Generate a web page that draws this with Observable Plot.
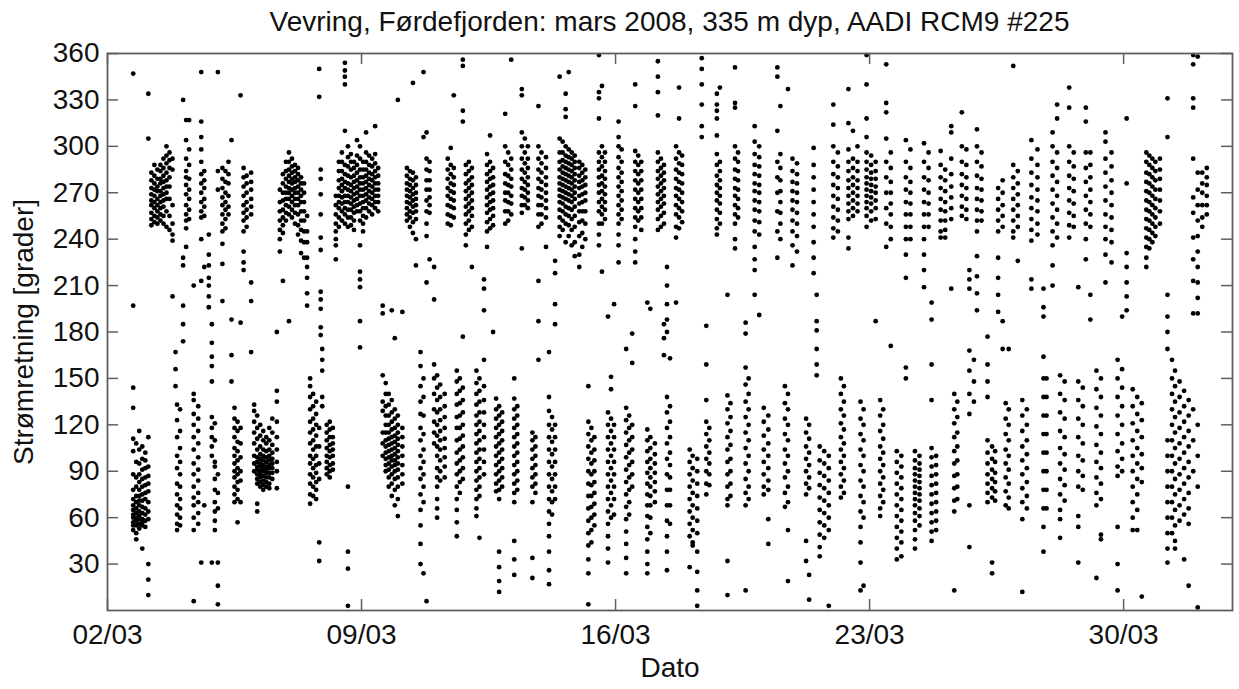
<!DOCTYPE html>
<html>
<head>
<meta charset="utf-8">
<script src="https://cdn.jsdelivr.net/npm/d3@7"></script>
<script src="https://cdn.jsdelivr.net/npm/@observablehq/plot@0.6"></script>
<style>
  html, body { margin: 0; padding: 0; background: #fff; }
  #wrap { width: 1239px; position: relative; }
  #title { box-sizing: border-box; height: 24px; padding-top: 8px; margin-left: 107px; width: 1125px; overflow: visible;
           text-align: center; font: 28px/28px "Liberation Sans", Arial, sans-serif; color: #111; white-space: nowrap; position: relative; z-index: 2; }
  #chart svg { background: transparent; }
</style>
</head>
<body>
<div id="wrap">
  <div id="title">Vevring, Førdefjorden: mars 2008, 335 m dyp, AADI RCM9 #225</div>
  <div id="chart"></div>
</div>
<script>
// Time of each sampled column: hours after 02/03/2008 00:00
const colHours = [17,19,21,23,25,27,29,31,33,35,37,39,41,43,45,46,48,50,52,54,57,60,62,64,67,69,71,73,76,78,80,82,84,86,88,90,92,95,97,99,101,103,105,107,109,112,114,116,118,120,122,124,126,128,130,132,134,136,138,140,141,142,145,147,149,151,153,155,157,159,161,163,165,167,169,171,173,175,177,179,182,184,186,188,190,192,195,198,200,202,204,207,209,211,213,216,218,220,223,225,227,229,231,233,235,237,239,241,244,246,249,251,253,255,257,259,261,263,265,267,269,271,274,276,278,281,283,285,287,290,292,294,296,299,301,303,305,307,309,312,314,316,318,320,322,325,327,329,331,333,335,338,340,343,345,347,349,351,353,357,359,362,364,366,368,370,372,376,378,380,385,387,390,393,396,398,403,405,410,412,415,417,422,424,428,431,434,437,443,445,448,450,453,456,462,464,467,469,471,474,477,480,483,485,487,490,493,496,498,500,502,505,508,511,513,515,518,522,525,528,531,534,537,540,543,545,548,551,554,558,560,562,565,568,570,573,575,578,582,585,587,589,592,594,596,599,602,605,608,611,615,619,621,625,628,630,633,636,639,642,645,647,650,654,657,660,664,668,671,674,678,681,684,687,689,691,693,696,701,704,706,709,712,715,718,721,724,727];

// Current direction [degrees] of the points in each column
const colDirs = [
"347 197 144 131 111 103 88 78 72 68 65 62 60 57 55 52",
"108 96 86 80 74 70 66 63 60 58 55 50 46",
"116 104 95 88 83 78 74 71 68 64 61 59 56 53",
"106 98 91 85 80 75 71 67 63 59 57 55 40",
"102 97 92 86 81 76 72 66 62 58 54",
"112 93 87 82 77 70 64 59 30 20 10 334 305",
"283 278 273 269 265 262 257 253 249",
"281 276 272 268 264 260 255 251 288",
"285 279 274 271 266 262 258 254 250",
"288 284 279 276 271 268 264 260 256 252",
"292 286 281 277 273 269 265 261 255 250",
"300 294 289 283 278 274 270 266 258 248",
"296 291 286 280 274 266 255 246",
"292 285 262 250 243 239 203",
"167 156 145",
"133 123 112 100 92 82 75 68 62 56 52",
"130 116 105 96 88 80 72 66 60 55",
"330 228 223 197 185 174",
"317 304 292 284 280 275 269 262 256 252 247 235",
"317 298 288 279 272 266 259 253",
"210 140 136 127 120 112 104 95 88 80 73 68 60 52 6",
"132 124 116 108 99 91 84 76 70 63 56",
"348 316 306 298 290 282 276 270 264 258 254 240 213 31",
"284 278 273 266 261 255 222 68",
"243 230 223 215 210 203 196",
"185 173 164 158 148 31 125 118 112 106 100",
"93 85 78 70 64 58 52 121 110 96",
"348 284 272 31 16 4 88 76 66",
"286 279 273 267 262 256 250 245 237 224 200",
"284 277 270 264 259 253 247",
"290 282 276 268 261 256",
"188 165 148 304",
"131 124 118 112 105 100 95 90 86 80 75 70",
"122 116 109 103 97 92 88 83 78 72 57",
"333 186 70 118 108 99 90 84",
"286 280 274 268 262 257 252 245 232 225 220",
"281 276 270 264 259 254 248",
"283 277 272 266 261 256 212 200 167",
"133 129 122 115 108 100 95 90",
"126 118 111 104 99 96 93 91 88 85 82 69 64",
"120 113 106 101 98 95 93 90 88 86 83 80",
"116 110 104 100 97 94 92 90 87 84 81 78",
"112 108 103 99 96 93 91 89 86 83 80",
"118 110 104 100 97 94 92 89 86 82 79",
"124 115 107 102 98 95 92 89 85",
"142 135 122 112 104 96 90 79 180",
"272 264 258 252 246 240 232",
"282 276 270 265 259 254 249 244 213",
"290 284 279 274 270 266 262 257 252",
"296 290 285 281 277 273 270 266 261 256 187",
"292 287 283 279 276 272 268 264 259 254",
"288 284 280 277 273 270 266 262 257 250",
"286 282 278 274 270 266 262 256 249 243",
"280 276 272 268 264 258 252 246 239 231",
"276 270 264 258 252 245 238 228",
"255 245 238 228 222 215 205 197",
"150 145 138 130 122 115 108 100 95 88 82 75 69",
"140 132 124 117 110 104 98 92 86 80 74",
"135 127 120 113 106 100 94 89 83 78 72",
"350 332 44 32 118 106 95 85",
"285 279 269 256 241 233 206 201 195 183 178",
"169 162 155 138 132",
"120 115 110 105 100 96 92 88",
"122 117 112 107 103 99 94 90 86",
"118 112 108 104 100 95 91",
"268 262 256 250 245 240 236 227",
"290 284 278 273 268 264 260 254 248",
"296 290 284 279 275 271 267 263 258 252",
"354 349 345 340 310 288 282 277 273 268 264 260 256 250",
"300 293 287 281 276 272 268 264 259 254 248 80 38 27 3",
"295 290 285 280 275 271 267 263 259 254 249",
"290 286 281 277 273 269 265 261 257 252 246",
"304 294 288 283 278 274 270 266 262 258",
"300 292 285 280 276 272 268 263 258 252 236 219 214 209 187 170",
"290 285 280 276 272 268 264 260 255 250 245",
"309 296 290 285 281 277 273 269 265 260 254",
"294 288 283 279 275 271 267 263 258",
"292 287 282 278 274 270 266 262 256",
"313 295 289 284 280 276 272 268 264 260",
"286 281 276 272 268 264 258",
"197 192 152 135 129 115 108 100",
"147 140 132 126 120 115 110 106 102 98 94 90",
"140 133 126 120 115 111 107 103 99 95 91 86 80",
"194 136 128 122 117 112 108 104 100 97 93 88 82 74",
"176 130 124 118 113 109 105 101 97 94 90 85 78 68",
"330 126 120 115 111 107 103 99 95 91 86 80 72 61",
"193 118 112 106 100 94 88 82",
"286 281 276 272 268 264 260 256 252",
"284 279 275 271 267 263 258 254 248",
"341 283 278 273 269 265 261 257 251 244",
"280 275 270 266 262 258 253 240 223",
"167 158 145 135 127 118 110 100 92 85 75 65 55 43 30",
"348 306 150 138 126 114 104 96 88 80 70 24",
"309 292 285 278 272 265 258 250 242 212 6",
"290 284 278 272 267 262 257 227",
"222 201 159 150 140 130 122 115 108",
"152 144 136 128 120 113 106 100 92 86 80 72 66 60",
"146 138 130 123 116 110 104 97 90 84",
"140 132 125 118 111 105 99 93 86",
"292 285 279 273 268 262 256 250",
"299 288 282 276 271 266 261 255 249",
"333 286 280 275 270 265 260 254",
"155 148 140 133 125 118 110 102 95 88 80 72 65 57 48",
"150 142 134 126 118 111 104 97 90 83 76",
"352 356 323 316 177 144 136 128 120 113 106 99 92 85",
"288 282 276 271 266 261 256 250 243 236",
"290 284 278 273 268 263 258 252 246",
"286 280 275 270 265 260 255 248 222",
"155 147 140 133 126 120 114 108 102 96 90 84 78 72 66 61",
"150 142 135 128 122 116 110 104 98 92 86 80 74 47",
"162 214 208 194 145 136 128 120 112 104 96 88",
"295 288 282 277 272 267 262 257 251 245 235",
"307 290 284 279 274 269 264 259 253 247",
"180 286 280 275 270 265 260 255 249",
"137 130 124 118 112 106 100 94 88 82 77",
"132 126 120 114 108 102 96 90 84 78 72 38 28 19 12",
"128 122 116 110 104 98 92 86 80",
"321 300 290 282 276 270 265 258 250",
"296 288 281 275 270 264 258 252",
"356 292 285 279 274 268 263 256",
"150 137 130 124 118 112 106 100 94 88 82 76 70 45 33 23",
"132 126 120 114 108 102 96 90 84 78",
"337 333 309 300 292 285 279 273 268 262 257 234",
"305 296 289 283 277 272 267 262",
"300 292 286 280 275 270 265 260",
"115 110 104 98 92 86 80 70 34 21",
"112 106 100 94 88 82 76",
"162 187 213 326 300 292 285 279 273 268 262 256 248",
"296 289 283 277 272 267 262 256 250",
"293 286 280 275 270 265 260 254 235",
"167 138 129 120 112 104 96 88 80 72 64 56 48 38 26 17",
"125 117 109 101 93 85 77 70 62",
"185 198 218 226 120 112 104 96 88 80 72",
"345 305 296 290 285 280 276 272 268 264 259 254 248 242",
"303 296 291 287 283 279 275 271 267 263 258 252 246",
"334 324 319 300 294 290 286 282 278 274 270 266 261 256 250 238",
"348 298 293 289 285 281 277 273 269 265 260 255 249 242",
"296 292 288 284 280 276 272 268 264 259 253 246 236",
"294 290 286 282 278 274 270 266 261 255 248 238 229",
"290 286 281 277 273 268 263 258 251 242 230 222",
"288 283 278 274 269 264 258 252 244 235",
"285 280 275 270 265 258 250 240",
"145 122 114 106 98 90 82 74 66 58 50 42 33 24 4",
"118 110 102 95 88 81 74 67 60 52 44",
"112 104 97 90 83 76 69 62 55",
"359 335 331 318 296 290 285 280 275 270 264 258 250 243 236",
"339 300 293 287 281 276 271 266 261 256 250 219",
"296 290 284 279 274 269 264 259 253",
"190 128 120 112 104 96 88 80 72 64 56 48 40 31",
"151 143 124 116 108 100 92 84 76 68 60",
"198 120 112 104 96 88 80 72 62",
"316 306 300 293 286 280 274 268 262 256 250 243 236 225",
"298 290 283 277 271 265 259 253",
"169 131 123 115 107 99 91 83 75 67 59 51 43 34 24",
"126 118 110 102 94 86 78 70 62",
"160 179 120 112 104 96 88 80",
"340 326 297 290 284 278 272 266 260 254 248 240 232 225",
"294 288 282 276 270 264 258 252",
"290 284 278 272 266 260 254 246",
"199 117 110 103 96 89 82 75 68 61 54 46 38 30 24",
"195 112 105 98 92 86 80 74 68 60 50",
"108 101 95 89 83 77 70",
"355 345 335 320 296 290 284 279 274 269 264 259 253 246",
"292 286 281 276 271 266 261 255 248",
"288 283 278 273 268 263 257 250 185 176 165",
"222 210 198 188 180 138 128 118 108 98 88 78 68 58 48 38 26",
"163 132 122 112 102 94 86 78 68 56",
"300 292 285 279 273 268 262 256 248 241 199",
"318 338 296 289 283 277 272 266 260 254 247",
"294 288 282 276 270 264 258 251",
"104 96 88 80 72 64 56 48 28",
"100 92 84 76 68 60 52 44 42",
"98 90 82 74 66 58 50 38 25 13 3",
"357 350 340 327 313 306",
"159 136 122 114 106 98 90 82 75 184",
"118 110 102 95 88 81",
"334 327 323 318 307 295 288 281 275 270 265 259 253 247 243",
"338 290 284 278 273 268 263 257 250",
"204 139 130 121 112 104 96 88 80 72 68 32 10",
"134 125 116 107 98 90 82 74",
"351 328 325 300 292 285 279 273 268 262 256 250 240 234",
"296 290 284 278 272 266 260 254",
"186 179 157 146 135 125 115 105 95 85 76 68 13",
"150 140 130 120 110 100 90 80 72",
"313 303 295 288 282 276 271 265 259 252 245 235 227 220 204",
"300 293 287 281 275 270 264 258 251 243 191",
"131 122 113 104 96 88 80 75",
"126 117 108 100 92 84 78 59 43",
"351 345 310 290 280 270 258 245 228",
"326 295 286 278 271 264 257 250 240",
"145 134 124 114 104 95 86 76 67",
"140 130 120 110 100 90 80 70 52 19 337",
"292 284 277 271 265 259 252 245 236 223",
"289 282 276 270 264 257 250 242 232",
"124 115 106 98 90 82 75 45 32",
"120 111 102 94 86 79 23 7",
"299 288 280 272 264 256 248 238 228 218",
"204 187 181 169 159 152",
"106 97 89 81 73 65 57 49 41 35",
"103 95 87 79 71 63 55 47",
"100 92 84 76 68 60 52 3",
"327 314 300 290 282 275 268 261 254 247 241",
"296 287 280 273 266 259 252 245",
"150 140 130 121 112 104 96 88 80 73",
"145 135 126 117 108 100 92 84 76",
"337 315 298 290 284 278 273 268 263 258 253 241 234",
"310 292 286 280 275 270 265 260 255",
"300 290 284 278 273 268 263 258",
"135 124 114 104 94 84 74 64 54 44 31 13",
"130 120 110 100 90 80 70 60 16",
"359 340 318 306 296 290 285 280 276 272 268 264 260 255 248",
"294 288 283 279 275 271 267 263 258 252",
"290 284 279 274 270 265 260 253 187",
"136 126 116 106 98 90 82 74 66 61",
"130 120 111 102 94 86 78 70",
"353 328 322 305 290 280 270 260 250 235",
"296 286 277 270 263 256 248 240 171",
"103 96 89 82 75 68 61 54 47 40 33",
"100 93 86 79 72 65 58 51 44 35",
"304 290 280 272 264 256 248 240 230 215 157 150",
"298 286 277 270 263 256 248 240",
"103 97 92 88 84 80 76 72 68 63 58 52 46 40",
"100 95 91 87 83 79 75 71 66 61 55",
"302 290 280 272 264 256 248 240 230 220 209",
"296 286 278 270 263 256 248",
"136 105 99 93 87 81 75 69 63 57 51 45 159 188 199",
"100 94 88 82 76 70 64 58 52",
"297 288 280 273 266 259 252 245 241",
"285 278 271 264 258 252 246 241",
"313 309 292 282 274 267 260 253 208",
"140 130 121 112 103 95 87 79 71 64 13",
"135 125 115 106 97 88 80 72",
"322 300 290 282 275 268 261 255",
"298 288 280 273 266 259 253",
"220 214 208 168 155 140 127 68 41",
"162 148 135",
"311 300 290 281 273 266 259 252 245 229 216 205 194",
"296 287 279 272 265 258 252",
"177 159 148 138 110 102 95 88 82 76 70",
"106 98 91 85 79 73 31 24",
"103 96 89 83 77 71",
"273 266 259 252 245 228 215 204 193",
"278 270 262 255 248 187 169",
"134 124 114 104 95 86 77 68",
"130 120 110 100 91 82 73 66 169",
"288 280 273 266 259 252 245 241 352",
"284 276 269 262 255 248 226",
"136 126 116 106 97 88 79 70 59 12",
"130 120 110 101 92 83 74 66",
"304 292 283 275 267 260 253 246 239 214 208",
"298 288 280 272 265 258 250 243",
"208 196 190 164 150 138 126 114 102 90 78 66 54 38",
"150 138 126 114 102 90 78 66",
"309 300 290 281 272 263 254 245 236 223 210",
"327 318 296 286 277 268 259 250 241",
"152 140 128 116 105 95 85 75 65 59 47",
"148 136 124 112 101 91 81 71",
"338 325 300 290 281 273 265 257 249 241",
"296 287 279 271 263 255 248",
"209 148 136 124 112 100 90 80 61 54 31",
"144 132 120 108 97 87 78",
"325 316 296 286 277 268 259 250 240 227",
"296 288 280 272 264 256 248 204 188",
"155 143 131 119 107 96 86 76 68 21",
"150 138 126 114 102 92 82 72 49 46",
"309 303 292 283 274 265 256 248 240 230 212",
"296 287 278 270 262 254 246 238 225",
"162 150 138 126 114 103 93 87 54 30 13",
"156 144 132 120 108 98 90 190",
"318 276 231 222 212 203 194",
"143 132 121 110 100 90 80 70 60 52",
"138 127 116 105 95 85 75 65 52",
"134 123 112 101 92 83 9",
"296 290 283 277 271 265 259 253 247 241 235 228 222",
"294 288 282 276 270 264 258 252 246 240 234",
"292 286 280 274 268 262 256 250 244 238",
"290 284 278 272 266 260 254 248 242",
"292 285 279 272 265 258 250",
"331 306 204 190 180 169 110 100 90 80 70 60 50 40 31",
"162 150 140 130 120 110 100 90 80 70 60 50",
"155 145 135 125 115 105 95 85 75 65 55 45 40",
"148 138 128 118 108 98 88 78 68 58",
"142 132 122 112 102 92 82 72 62 33",
"136 126 116 106 96 86 76 66 56 16",
"359 353 331 325 292 267 257 241 227 213 192 130 110 90",
"358 283 272 262 252 242 232 222 212 202 192 120 100 80 2",
"283 276 270 262 254 248",
"286 280 275 268 262 256"
];

const startDate = Date.UTC(2008, 2, 2);
const endDate = Date.UTC(2008, 3, 2);
const xTickDates = [2, 9, 16, 23, 30].map(d => new Date(Date.UTC(2008, 2, d)));
const yTicks = [30, 60, 90, 120, 150, 180, 210, 240, 270, 300, 330, 360];

const points = [];
colHours.forEach((h, i) => {
  const t = new Date(startDate + h * 3600e3);
  colDirs[i].trim().split(/\s+/).forEach(v => points.push({t, dir: +v}));
});

const W = 1239, H = 665, mT = 29, mB = 79, mL = 107, mR = 7;
const plotH = H - mT - mB, plotW = W - mL - mR, tick = 11;
const axisColor = "#5f5f5f", textColor = "#111";

const chart = Plot.plot({
  width: W, height: H,
  marginTop: mT, marginBottom: mB, marginLeft: mL, marginRight: mR,
  style: {fontFamily: '"Liberation Sans", Arial, sans-serif', fontSize: "28px", color: textColor, background: "transparent"},
  x: {type: "utc", domain: [new Date(startDate), new Date(endDate)]},
  y: {domain: [0, 360]},
  marks: [
    Plot.dot(points, {x: "t", y: "dir", r: 2.4, fill: "#000", stroke: null}),
    Plot.frame({stroke: axisColor, strokeWidth: 1.8}),
    Plot.ruleX(xTickDates, {x: d => d, stroke: axisColor, strokeWidth: 1.5, insetTop: plotH - tick}),
    Plot.ruleX(xTickDates, {x: d => d, stroke: axisColor, strokeWidth: 1.5, insetBottom: plotH - tick}),
    Plot.ruleY(yTicks, {y: d => d, stroke: axisColor, strokeWidth: 1.5, insetRight: plotW - tick}),
    Plot.ruleY(yTicks, {y: d => d, stroke: axisColor, strokeWidth: 1.5, insetLeft: plotW - tick}),
    Plot.axisX({ticks: xTickDates, tickFormat: d3.utcFormat("%d/%m"), tickSize: 0, tickPadding: 14, label: null, fill: textColor}),
    Plot.axisY({ticks: yTicks, tickSize: 0, tickPadding: 8, label: null, fill: textColor}),
    Plot.text(["Dato"], {text: d => d, frameAnchor: "bottom", textAnchor: "middle", dy: 66, fill: textColor}),
    Plot.text(["Strømretning [grader]"], {text: d => d, frameAnchor: "left", textAnchor: "middle", dx: -83, rotate: -90, fill: textColor})
  ]
});
document.getElementById("chart").appendChild(chart);
</script>
</body>
</html>
